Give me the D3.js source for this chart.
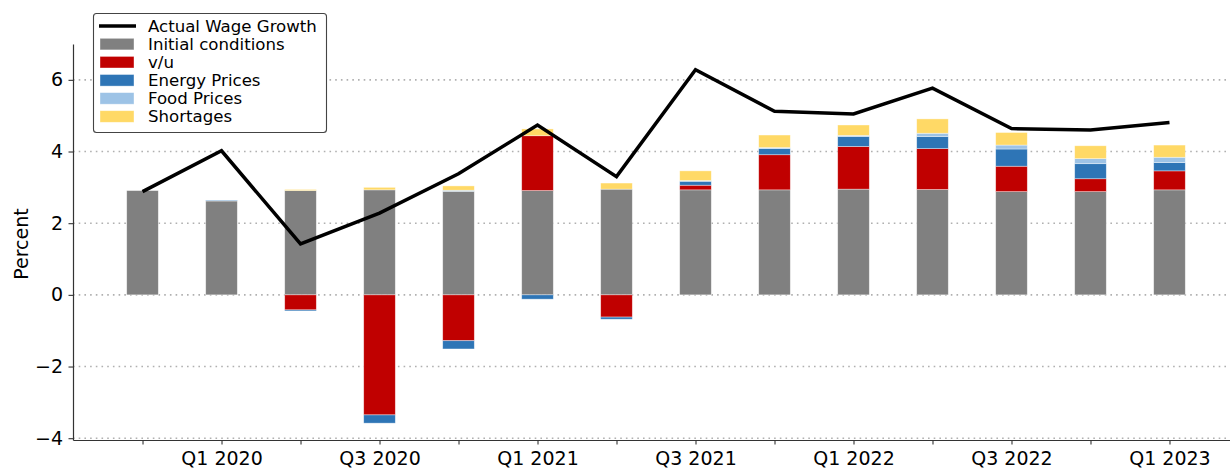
<!DOCTYPE html>
<html>
<head>
<meta charset="utf-8">
<script src="https://cdn.jsdelivr.net/npm/d3@7"></script>
<style>
  body { margin: 0; background: #fff; }
  svg { display: block; font-family: "DejaVu Sans", sans-serif; }
</style>
</head>
<body>
<svg></svg>
<script>
// wage growth decomposition, quarterly contributions

var quarters = ['Q4 2019', 'Q1 2020', 'Q2 2020', 'Q3 2020', 'Q4 2020', 'Q1 2021', 'Q2 2021',
                'Q3 2021', 'Q4 2021', 'Q1 2022', 'Q2 2022', 'Q3 2022', 'Q4 2022', 'Q1 2023'];
var tickLabels = ['', 'Q1 2020', '', 'Q3 2020', '', 'Q1 2021', '', 'Q3 2021', '', 'Q1 2022', '', 'Q3 2022', '', 'Q1 2023'];

var initialConditions = [2.91, 2.62, 2.91, 2.93, 2.89, 2.91, 2.95, 2.93, 2.93, 2.95, 2.94, 2.88, 2.88, 2.93];
var vu              = [0, 0, -0.42, -3.35, -1.28, 1.53, -0.62, 0.13, 0.98, 1.19, 1.14, 0.71, 0.36, 0.53];
var energyPrices    = [0, 0.02, -0.03, -0.23, -0.23, -0.12, -0.06, 0.11, 0.17, 0.28, 0.34, 0.48, 0.42, 0.23];
var foodPrices      = [0, 0, 0, 0, 0.03, 0, 0, 0.02, 0.03, 0.03, 0.09, 0.11, 0.14, 0.15];
var shortages       = [0, 0, 0.03, 0.07, 0.12, 0.19, 0.17, 0.27, 0.35, 0.29, 0.40, 0.35, 0.36, 0.34];
var actualWageGrowth = [2.88, 4.02, 1.42, 2.28, 3.38, 4.74, 3.30, 6.28, 5.12, 5.05, 5.77, 4.64, 4.60, 4.81];

var seriesNames = ['Initial conditions', 'v/u', 'Energy Prices', 'Food Prices', 'Shortages'];
var seriesColors = ['#808080', '#c00000', '#2e75b6', '#9dc3e6', '#ffd966'];
var yTicks = [-4, -2, 0, 2, 4, 6];

var width = 1230;
var height = 470;
var svg = d3.select('svg')
              .attr('width', width)
              .attr('height', height);

var rows = quarters.map(function(q, i) {
  return {
    i: i,
    'Initial conditions': initialConditions[i],
    'v/u': vu[i],
    'Energy Prices': energyPrices[i],
    'Food Prices': foodPrices[i],
    'Shortages': shortages[i]
  };
});

var x = d3.scaleLinear()
          .domain([-0.88, 13.766])
          .range([73, 1230]);
var y = d3.scaleLinear()
          .domain([-4.05, 7.0])
          .range([440, 44]);
var color = d3.scaleOrdinal().domain(seriesNames).range(seriesColors);
var barW = x(0.4) - x(0);

// grid
svg.append('g')
  .selectAll('line')
  .data(yTicks)
  .enter()
  .append('line')
    .attr('x1', 73)
    .attr('x2', width)
    .attr('y1', d => y(d))
    .attr('y2', d => y(d))
    .attr('stroke', '#b0b0b0')
    .attr('stroke-width', 1.6)
    .attr('stroke-dasharray', '1.6,4.1');

// stacked bars
var stacked = d3.stack()
  .keys(seriesNames)
  .offset(d3.stackOffsetDiverging)(rows);

svg.append('g')
  .selectAll('g')
  .data(stacked)
  .enter()
  .append('g')
    .attr('fill', d => color(d.key))
  .selectAll('rect')
  .data(d => d)
  .enter()
  .append('rect')
    .attr('x', d => x(d.data.i) - barW / 2)
    .attr('width', barW)
    .attr('y', d => y(Math.max(d[0], d[1])))
    .attr('height', d => Math.abs(y(d[0]) - y(d[1])))
    .attr('stroke', 'rgba(255,255,255,0.55)')
    .attr('stroke-width', 0.7);

// actual wage growth line
var line = d3.line()
  .x((d, i) => x(i))
  .y(d => y(d));

svg.append('path')
  .datum(actualWageGrowth)
  .attr('d', line)
  .attr('fill', 'none')
  .attr('stroke', '#000')
  .attr('stroke-width', 3.5);

// axes
var xAxis = svg.append('g')
  .attr('transform', 'translate(0,440)')
  .call(d3.axisBottom(x)
    .tickValues(d3.range(quarters.length))
    .tickFormat(i => tickLabels[i])
    .tickSize(4.5)
    .tickPadding(7)
    .tickSizeOuter(0));
xAxis.select('.domain').attr('stroke', '#333').attr('stroke-width', 1.2);
xAxis.selectAll('.tick line').attr('stroke', '#333').attr('stroke-width', 1.1);
xAxis.selectAll('text').attr('font-size', 19).attr('fill', '#000').attr('font-family', 'DejaVu Sans');

var yAxis = svg.append('g')
  .attr('transform', 'translate(73,0)')
  .call(d3.axisLeft(y)
    .tickValues(yTicks)
    .tickFormat(d3.format('d'))
    .tickSize(4.5)
    .tickPadding(5.5)
    .tickSizeOuter(0));
yAxis.select('.domain').attr('stroke', '#333').attr('stroke-width', 1.2);
yAxis.selectAll('.tick line').attr('stroke', '#333').attr('stroke-width', 1.1);
yAxis.selectAll('text').attr('font-size', 19).attr('fill', '#000').attr('font-family', 'DejaVu Sans');

svg.append('text')
  .attr('transform', 'translate(27.5,244) rotate(-90)')
  .attr('text-anchor', 'middle')
  .attr('font-size', 19)
  .text('Percent');

// legend
var legend = svg.append('g');
legend.append('rect')
  .attr('x', 93.5)
  .attr('y', 13.5)
  .attr('width', 233)
  .attr('height', 119)
  .attr('rx', 3)
  .attr('fill', '#fff')
  .attr('stroke', '#444')
  .attr('stroke-width', 1.1);

var legendItems = [{ name: 'Actual Wage Growth', kind: 'line' }]
  .concat(seriesNames.map(n => ({ name: n, kind: 'patch' })));

var item = legend.selectAll('.item')
  .data(legendItems)
  .enter()
  .append('g')
    .attr('transform', (d, i) => `translate(0, ${26 + i * 18.1})`);

item.filter(d => d.kind === 'line')
  .append('line')
    .attr('x1', 99).attr('x2', 136)
    .attr('stroke', '#000')
    .attr('stroke-width', 3.5);

item.filter(d => d.kind === 'patch')
  .append('rect')
    .attr('x', 100).attr('y', -5.8)
    .attr('width', 34).attr('height', 11.6)
    .attr('fill', d => color(d.name))
    .attr('stroke', 'rgba(255,255,255,0.55)')
    .attr('stroke-width', 0.7);

item.append('text')
  .attr('x', 148)
  .attr('dy', '0.36em')
  .attr('font-size', 16.6)
  .text(d => d.name);
</script>
</body>
</html>
